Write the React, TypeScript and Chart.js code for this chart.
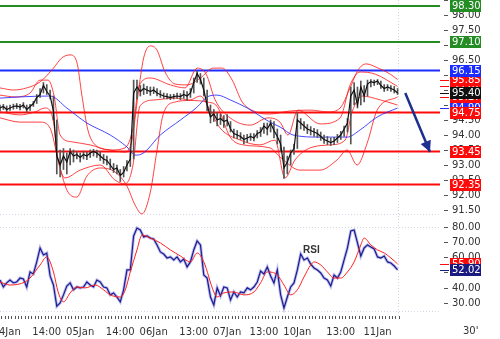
import React, { useEffect, useRef } from 'react';
import { Chart, registerables } from 'chart.js';

Chart.register(...registerables);

// ---- time axis ----
const X_LABELS = ['04Jan', '14:00', '05Jan', '14:00', '06Jan', '13:00', '07Jan', '13:00', '10Jan', '13:00', '11Jan'];
const X_LABEL_IDX = [2, 14, 24, 36, 46, 58, 68, 79, 89, 102, 113];
const X_MAX = 131.7;

// ---- price bars (30' bars, sampled) ----
const CLOSE = [
  94.90, 94.95, 94.85, 94.90, 94.95, 94.97, 94.93, 95.00, 94.85, 94.95,
  95.05, 95.25, 95.35, 95.65, 95.45, 95.30, 94.80, 93.30, 93.00, 93.30,
  93.10, 93.45, 93.30, 93.35, 93.25, 93.35, 93.30, 93.40, 93.45, 93.40,
  93.30, 93.20, 93.15, 93.00, 92.85, 92.90, 92.65, 92.75, 93.00, 93.20,
  95.40, 95.60, 95.45, 95.55, 95.50, 95.45, 95.50, 95.40, 95.35, 95.30,
  95.28, 95.25, 95.28, 95.30, 95.28, 95.35, 95.30, 95.40, 95.75, 96.05,
  95.85, 95.50, 95.00, 94.60, 94.70, 94.50, 94.55, 94.45, 94.50, 94.20,
  94.05, 94.00, 93.95, 93.85, 93.90, 93.95, 93.90, 94.05, 94.10, 94.30,
  94.20, 94.40, 94.15, 93.95, 93.70, 92.90, 93.10, 93.40, 93.55, 94.50,
  94.40, 94.30, 94.20, 94.15, 94.10, 94.05, 93.95, 93.85, 93.80, 93.75,
  93.80, 93.90, 94.00, 94.20, 94.40, 95.30, 95.50, 95.00, 95.60, 95.30,
  95.70, 95.78, 95.75, 95.80, 95.65, 95.55, 95.60, 95.55, 95.50, 95.40,
];
const HIGH = [
  95.00, 95.02, 94.97, 95.00, 95.03, 95.05, 95.02, 95.08, 95.00, 95.02,
  95.12, 95.35, 95.55, 95.75, 95.68, 95.50, 95.30, 94.50, 93.50, 93.55,
  93.40, 93.55, 93.50, 93.45, 93.40, 93.45, 93.42, 93.50, 93.52, 93.50,
  93.45, 93.35, 93.30, 93.20, 93.05, 93.00, 92.85, 92.95, 93.15, 93.40,
  95.83, 95.83, 95.65, 95.70, 95.62, 95.60, 95.60, 95.55, 95.48, 95.40,
  95.38, 95.35, 95.36, 95.40, 95.38, 95.48, 95.45, 95.55, 95.90, 96.12,
  96.05, 95.90, 95.50, 95.00, 94.85, 94.75, 94.70, 94.65, 94.68, 94.45,
  94.20, 94.15, 94.08, 94.00, 94.02, 94.05, 94.05, 94.15, 94.25, 94.40,
  94.40, 94.50, 94.45, 94.20, 94.00, 93.60, 93.30, 93.50, 93.70, 94.75,
  94.55, 94.45, 94.35, 94.28, 94.22, 94.18, 94.10, 94.00, 93.95, 93.90,
  93.92, 94.02, 94.12, 94.30, 94.55, 95.60, 95.75, 95.60, 95.80, 95.65,
  95.83, 95.85, 95.83, 95.85, 95.80, 95.68, 95.68, 95.65, 95.62, 95.55,
];
const LOW = [
  94.80, 94.85, 94.78, 94.82, 94.86, 94.88, 94.84, 94.90, 94.75, 94.82,
  94.95, 95.05, 95.25, 95.40, 95.35, 95.20, 94.50, 92.70, 92.60, 92.85,
  92.70, 93.00, 93.10, 93.20, 93.10, 93.20, 93.18, 93.25, 93.30, 93.25,
  93.15, 93.05, 93.00, 92.85, 92.75, 92.70, 92.45, 92.60, 92.80, 92.95,
  93.20, 95.20, 95.30, 95.35, 95.38, 95.32, 95.38, 95.30, 95.25, 95.22,
  95.20, 95.18, 95.20, 95.22, 95.18, 95.22, 95.15, 95.25, 95.40, 95.75,
  95.70, 95.30, 94.80, 94.40, 94.45, 94.30, 94.35, 94.25, 94.30, 94.10,
  93.90, 93.88, 93.85, 93.70, 93.75, 93.82, 93.80, 93.90, 93.95, 94.05,
  94.00, 94.10, 93.90, 93.70, 93.45, 92.55, 92.70, 93.00, 93.35, 93.55,
  94.20, 94.15, 94.05, 94.00, 93.95, 93.92, 93.82, 93.72, 93.68, 93.65,
  93.68, 93.75, 93.85, 93.95, 94.10, 93.70, 95.00, 94.90, 95.00, 95.10,
  95.30, 95.60, 95.65, 95.68, 95.55, 95.45, 95.48, 95.45, 95.40, 95.35,
];

// ---- moving average (blue) ----
const MA_X = [0, 6, 15, 20, 26, 33, 38, 40.4, 42.5, 48, 54, 59, 62, 65, 68.9, 74, 80.8, 83.8, 87.7, 95.8, 103.9, 107.8, 112.9, 119];
const MA_Y = [95.23, 95.27, 95.30, 94.90, 94.40, 94.00, 93.60, 93.33, 93.37, 94.00, 94.50, 94.93, 95.27, 95.33, 95.17, 94.90, 94.43, 94.27, 94.00, 93.93, 93.93, 94.17, 94.60, 94.90];

// ---- bands (red) ----
const U1_X = [0, 4, 8, 12, 16, 18.5, 21, 23, 24.5, 26.3, 28.5, 33, 37.5, 39.5, 41.3, 43, 45, 47, 49.4, 52.4, 56, 60, 63.8, 66.5, 69.5, 72.5, 76.6, 80.8, 86.8, 92.8, 98.2, 101.8, 104.8, 107.2, 109.6, 113.2, 116.8, 119];
const U1_Y = [95.57, 95.50, 95.57, 95.77, 96.23, 96.57, 96.67, 96.43, 95.33, 94.17, 93.67, 93.50, 93.43, 93.83, 95.33, 96.57, 96.97, 96.83, 96.10, 95.70, 95.67, 95.90, 96.23, 96.23, 95.83, 95.10, 94.77, 94.70, 94.80, 94.83, 94.77, 94.90, 95.57, 96.17, 96.37, 96.23, 96.03, 95.85];
const L1_X = [0, 6, 12, 15, 17.4, 20, 23, 26, 30, 34.4, 38, 40.4, 42.5, 45, 47, 48.8, 52.4, 56.9, 62, 65, 68.9, 72.8, 80.8, 83.8, 89.8, 95.8, 100.9, 103.9, 106.9, 109.9, 112.9, 119];
const L1_Y = [94.57, 94.43, 94.43, 94.23, 93.17, 92.17, 91.93, 92.63, 92.90, 92.77, 92.30, 91.67, 91.37, 92.10, 93.50, 94.67, 95.10, 95.15, 95.10, 94.95, 93.93, 93.67, 93.57, 93.27, 92.83, 92.83, 93.17, 93.50, 93.00, 93.73, 94.83, 95.27];
const U2_X = [0, 4.5, 9, 12, 14.4, 16.2, 18, 21.6, 27, 33, 37.4, 39.8, 41.6, 45, 51, 55.4, 59, 61.7, 64.4, 68.9, 74.9, 80.2, 83.8, 86.2, 89.2, 95.8, 101.8, 104.8, 107.8, 112.3, 119];
const U2_Y = [95.33, 95.27, 95.40, 95.83, 95.83, 95.30, 94.00, 93.77, 93.67, 93.50, 93.57, 94.23, 95.63, 95.90, 95.67, 95.57, 96.23, 96.03, 95.17, 94.57, 94.33, 94.57, 94.43, 94.00, 94.83, 94.37, 94.57, 95.67, 96.10, 96.03, 95.62];
const L2_X = [0, 6, 10.5, 13.5, 15.9, 17.4, 19.5, 24, 30, 34.4, 37.4, 39.8, 41.9, 46.4, 52.4, 56.9, 59.9, 62.9, 65.9, 71.9, 77.8, 82.3, 85.3, 88.3, 92.8, 98.8, 103.3, 105.4, 108.4, 113.8, 119];
const L2_Y = [94.77, 94.67, 94.77, 94.90, 94.50, 93.17, 92.57, 92.83, 93.00, 92.50, 92.37, 93.00, 94.97, 95.17, 95.23, 95.17, 95.30, 94.83, 94.23, 93.83, 93.67, 93.83, 92.57, 93.17, 93.57, 93.67, 93.83, 94.77, 95.30, 95.17, 95.00];

// ---- support / resistance levels ----
const LEVELS = [98.30, 97.10, 96.15, 94.75, 93.45, 92.35];
const LEVEL_COLORS = ['#238c23', '#238c23', '#1a2cff', '#ff0a0a', '#ff0a0a', '#ff0a0a'];

// ---- projection arrow ----
const ARROW_X = [121.3, 128.7];
const ARROW_Y = [95.40, 93.43];

// ---- RSI ----
const RSI = [
  45.3, 40.7, 43.4, 45.3, 43.4, 44.0, 46.6, 46.0, 40.7, 50.6,
  49.3, 57.2, 66.4, 61.8, 63.0, 48.0, 42.0, 28.0, 30.2, 35.5,
  41.3, 43.4, 38.8, 40.7, 40.1, 40.7, 44.0, 42.0, 40.7, 45.3,
  44.0, 40.7, 40.1, 35.5, 36.8, 34.1, 30.9, 38.8, 51.9, 51.9,
  74.3, 79.5, 78.2, 73.6, 74.3, 72.9, 72.3, 68.4, 63.8, 62.4,
  59.8, 60.5, 58.5, 60.5, 57.2, 59.1, 53.9, 57.2, 65.1, 71.0,
  68.4, 48.6, 46.6, 34.1, 28.9, 40.1, 34.8, 40.7, 40.1, 32.2,
  37.4, 34.1, 37.4, 36.8, 40.1, 38.8, 40.7, 44.0, 51.2, 49.3,
  53.9, 48.0, 43.4, 51.9, 35.5, 26.9, 34.1, 40.7, 43.4, 51.9,
  62.4, 58.5, 59.8, 55.8, 53.2, 51.9, 49.9, 46.6, 45.3, 41.3,
  48.6, 46.6, 50.6, 58.5, 66.4, 77.6, 78.2, 69.7, 61.1, 66.4,
  68.4, 67.0, 65.7, 60.5, 59.8, 61.1, 57.2, 56.5, 54.5, 52.02,
];
const RSI_MA_X = [0, 3, 7.5, 9, 12, 14, 16, 17.4, 19, 21, 23, 25.5, 28.5, 31, 33, 36, 37.5, 39, 41, 42.5, 45, 48, 51, 54, 57, 59, 61, 64, 65, 67, 70, 73, 76, 78, 80, 83, 85, 87, 89, 91, 93, 94, 96, 98, 100, 102, 104, 106, 108, 109, 111, 113, 115, 117, 119];
const RSI_MA_Y = [44.0, 42.0, 44.0, 46.6, 55.2, 60.5, 50.6, 37.4, 30.9, 36.8, 40.7, 40.1, 42.0, 38.8, 35.5, 34.1, 38.8, 50.6, 65.1, 74.9, 72.9, 69.7, 65.1, 61.1, 57.2, 63.1, 57.2, 37.4, 34.1, 36.8, 37.4, 35.5, 37.4, 43.4, 50.6, 48.6, 42.0, 35.5, 38.8, 47.3, 55.2, 57.2, 55.2, 50.6, 46.6, 46.6, 50.6, 57.2, 68.4, 72.9, 68.4, 65.1, 63.1, 59.8, 55.9];

// ---- scales ----
const PRICE_MIN = 91.167;
const PRICE_MAX = 98.5;
const RSI_MIN = 21.6;
const RSI_MAX = 84.8;
const PRICE_GRID = [91.37];
const RSI_GRID = [80, 25];

const FONT = { family: 'DejaVu Sans', size: 10 };
const RED = '#ff0a0a';
const BAND = 'rgba(255,20,20,0.8)';

const pts = (xs: number[], ys: number[]) => xs.map((x, i) => ({ x, y: ys[i] }));

const overlay = {
  id: 'overlay',
  beforeDatasetsDraw(chart: any) {
    const { ctx, chartArea, scales } = chart;
    const yP = scales.y, yR = scales.y2, x = scales.x;
    ctx.save();
    ctx.strokeStyle = '#d4d4e4';
    ctx.lineWidth = 1;
    ctx.setLineDash([1, 2]);
    const hl = (py: number) => {
      ctx.beginPath();
      ctx.moveTo(chartArea.left, Math.round(py) + 0.5);
      ctx.lineTo(chartArea.right, Math.round(py) + 0.5);
      ctx.stroke();
    };
    PRICE_GRID.forEach((v) => hl(yP.getPixelForValue(v)));
    RSI_GRID.forEach((v) => hl(yR.getPixelForValue(v)));
    const vx = Math.round(x.getPixelForValue(CLOSE.length - 1)) + 0.5;
    ctx.beginPath();
    ctx.moveTo(vx, chartArea.top);
    ctx.lineTo(vx, chartArea.bottom);
    ctx.stroke();
    ctx.restore();
  },
  afterDraw(chart: any) {
    const { ctx, chartArea, scales } = chart;
    const yP = scales.y, yR = scales.y2, x = scales.x;
    const right = chartArea.right;
    ctx.save();

    // arrow head
    const p0 = { x: x.getPixelForValue(ARROW_X[0]), y: yP.getPixelForValue(ARROW_Y[0]) };
    const p1 = { x: x.getPixelForValue(ARROW_X[1]), y: yP.getPixelForValue(ARROW_Y[1]) };
    const dx = p1.x - p0.x, dy = p1.y - p0.y;
    const len = Math.hypot(dx, dy);
    const ux = dx / len, uy = dy / len;
    const bx = p1.x - ux * 11, by = p1.y - uy * 11;
    ctx.fillStyle = '#1f2f8f';
    ctx.beginPath();
    ctx.moveTo(p1.x, p1.y);
    ctx.lineTo(bx - uy * 5.5, by + ux * 5.5);
    ctx.lineTo(bx + uy * 5.5, by - ux * 5.5);
    ctx.closePath();
    ctx.fill();

    // last-value markers
    const marker = (scale: any, v: number, color: string) => {
      const py = Math.round(scale.getPixelForValue(v)) + 0.5;
      ctx.strokeStyle = color;
      ctx.lineWidth = 1;
      ctx.beginPath();
      ctx.moveTo(right, py);
      ctx.lineTo(right + 9, py);
      ctx.stroke();
    };
    const last = (a: number[]) => a[a.length - 1];
    marker(yP, last(U1_Y), RED);
    marker(yP, last(U2_Y), RED);
    marker(yP, last(L1_Y), RED);
    marker(yP, last(CLOSE), '#111');
    marker(yP, last(MA_Y), '#2a2aff');
    marker(yR, last(RSI_MA_Y), RED);
    marker(yR, last(RSI), '#1a1a80');

    // value tags
    const tag = (scale: any, v: number, color: string) => {
      const py = scale.getPixelForValue(v);
      ctx.fillStyle = color;
      ctx.fillRect(right + 10, Math.round(py - 6), 31, 12);
      ctx.fillStyle = '#fff';
      ctx.font = '10px "DejaVu Sans"';
      ctx.textAlign = 'left';
      ctx.textBaseline = 'middle';
      ctx.fillText(v.toFixed(2), right + 12, py + 0.5);
    };
    tag(yP, last(U2_Y), RED);
    tag(yP, last(MA_Y), '#2a2aff');
    tag(yP, last(L1_Y), RED);
    tag(yP, last(CLOSE), '#111');
    tag(yP, last(U1_Y), RED);
    tag(yP, LEVELS[2], LEVEL_COLORS[2]);
    tag(yP, LEVELS[3], LEVEL_COLORS[3]);
    tag(yP, LEVELS[4], LEVEL_COLORS[4]);
    tag(yP, LEVELS[5], LEVEL_COLORS[5]);
    tag(yP, LEVELS[1], LEVEL_COLORS[1]);
    tag(yP, LEVELS[0], LEVEL_COLORS[0]);
    tag(yR, last(RSI_MA_Y), RED);
    tag(yR, last(RSI), '#1a1a80');

    // texts
    ctx.fillStyle = '#333';
    ctx.font = 'bold 10px "Liberation Sans"';
    ctx.textAlign = 'left';
    ctx.textBaseline = 'middle';
    ctx.fillText('RSI', x.getPixelForValue(90.7), yR.getPixelForValue(65));
    ctx.font = '10px "DejaVu Sans"';
    ctx.fillStyle = '#333';
    ctx.fillText("30'", right + 23, x.bottom - 8);
    ctx.restore();
  },
};

export default function App() {
  const ref = useRef<HTMLCanvasElement | null>(null);

  useEffect(() => {
    document.body.style.margin = '0';
    const canvas = ref.current;
    if (!canvas) return;

    const line = (label: string, data: any[], color: string, width: number, axis: string, order: number, extra: any = {}) => ({
      type: 'line',
      label,
      data,
      borderColor: color,
      borderWidth: width,
      pointRadius: 0,
      fill: false,
      yAxisID: axis,
      order,
      ...extra,
    });

    const datasets: any[] = [
      line('arrow', pts(ARROW_X, ARROW_Y), '#1f2f8f', 2.5, 'y', 0),
      line('close', CLOSE.map((c, i) => ({ x: i, y: c })), '#111', 1.2, 'y', 1),
      {
        type: 'bar',
        label: 'range',
        data: HIGH.map((h, i) => ({ x: i, y: [LOW[i], h] })),
        backgroundColor: '#555',
        barThickness: 1,
        yAxisID: 'y',
        order: 2,
      },
      line('ma', pts(MA_X, MA_Y), 'rgba(40,40,255,0.85)', 1, 'y', 3, { cubicInterpolationMode: 'monotone' }),
      line('u1', pts(U1_X, U1_Y), BAND, 1, 'y', 4, { cubicInterpolationMode: 'monotone' }),
      line('l1', pts(L1_X, L1_Y), BAND, 1, 'y', 4, { cubicInterpolationMode: 'monotone' }),
      line('u2', pts(U2_X, U2_Y), BAND, 1, 'y', 4, { cubicInterpolationMode: 'monotone' }),
      line('l2', pts(L2_X, L2_Y), BAND, 1, 'y', 4, { cubicInterpolationMode: 'monotone' }),
      ...LEVELS.map((lv, k) =>
        line('lvl' + k, [{ x: 0, y: lv }, { x: X_MAX, y: lv }], LEVEL_COLORS[k], 2, 'y', 5)
      ),
      line('rsiMa', pts(RSI_MA_X, RSI_MA_Y), '#ff2020', 1, 'y2', 6, { cubicInterpolationMode: 'monotone' }),
      line('rsi', RSI.map((v, i) => ({ x: i, y: v })), '#1c1c8c', 1.2, 'y2', 7),
      line('rsiShadow', RSI.map((v, i) => ({ x: i, y: v })), 'rgba(120,120,225,0.5)', 3, 'y2', 8),
    ];

    const chart = new Chart(canvas, {
      type: 'line',
      data: { datasets },
      options: {
        animation: false,
        responsive: false,
        layout: { padding: 0 },
        plugins: { legend: { display: false }, tooltip: { enabled: false } },
        scales: {
          x: {
            type: 'linear',
            min: 0,
            max: X_MAX,
            offset: false,
            afterBuildTicks: (s: any) => {
              s.ticks = CLOSE.map((_, i) => ({ value: i }));
            },
            ticks: {
              autoSkip: false,
              maxRotation: 0,
              minRotation: 0,
              padding: 2,
              color: '#333',
              font: FONT,
              callback: (v: any) => {
                const k = X_LABEL_IDX.indexOf(Number(v));
                return k >= 0 ? X_LABELS[k] : '';
              },
            },
            grid: { drawOnChartArea: false, tickLength: 8, tickColor: '#555', tickBorderDash: [3, 30] },
            border: { display: false },
            afterFit: (s: any) => {
              s.height = 23;
              s.paddingLeft = 0;
              s.paddingRight = 0;
            },
          },
          y: {
            type: 'linear',
            position: 'right',
            stack: 'panes',
            stackWeight: 220,
            min: PRICE_MIN,
            max: PRICE_MAX,
            ticks: {
              stepSize: 0.5,
              includeBounds: false,
              autoSkip: false,
              padding: 4,
              color: '#333',
              font: FONT,
              callback: (v: any) => Number(v).toFixed(2),
            },
            grid: { drawOnChartArea: false, tickLength: 8, tickColor: '#555', tickBorderDash: [0, 4, 4, 30] },
            border: { display: false },
            afterFit: (s: any) => {
              s.width = 60;
              s.paddingTop = 0;
              s.paddingBottom = 0;
            },
          },
          y2: {
            type: 'linear',
            position: 'right',
            stack: 'panes',
            stackWeight: 96,
            min: RSI_MIN,
            max: RSI_MAX,
            ticks: {
              stepSize: 10,
              includeBounds: false,
              autoSkip: false,
              padding: 4,
              color: '#333',
              font: FONT,
              callback: (v: any) => Number(v).toFixed(2),
            },
            grid: { drawOnChartArea: false, tickLength: 8, tickColor: '#555', tickBorderDash: [0, 4, 4, 30] },
            border: { display: false },
            afterFit: (s: any) => {
              s.width = 60;
              s.paddingTop = 0;
              s.paddingBottom = 0;
            },
          },
        },
      } as any,
      plugins: [overlay],
    });

    return () => chart.destroy();
  }, []);

  return (
    <div style={{ width: 500, height: 339, background: '#fff' }}>
      <canvas ref={ref} width={500} height={339} style={{ display: 'block' }} />
    </div>
  );
}
